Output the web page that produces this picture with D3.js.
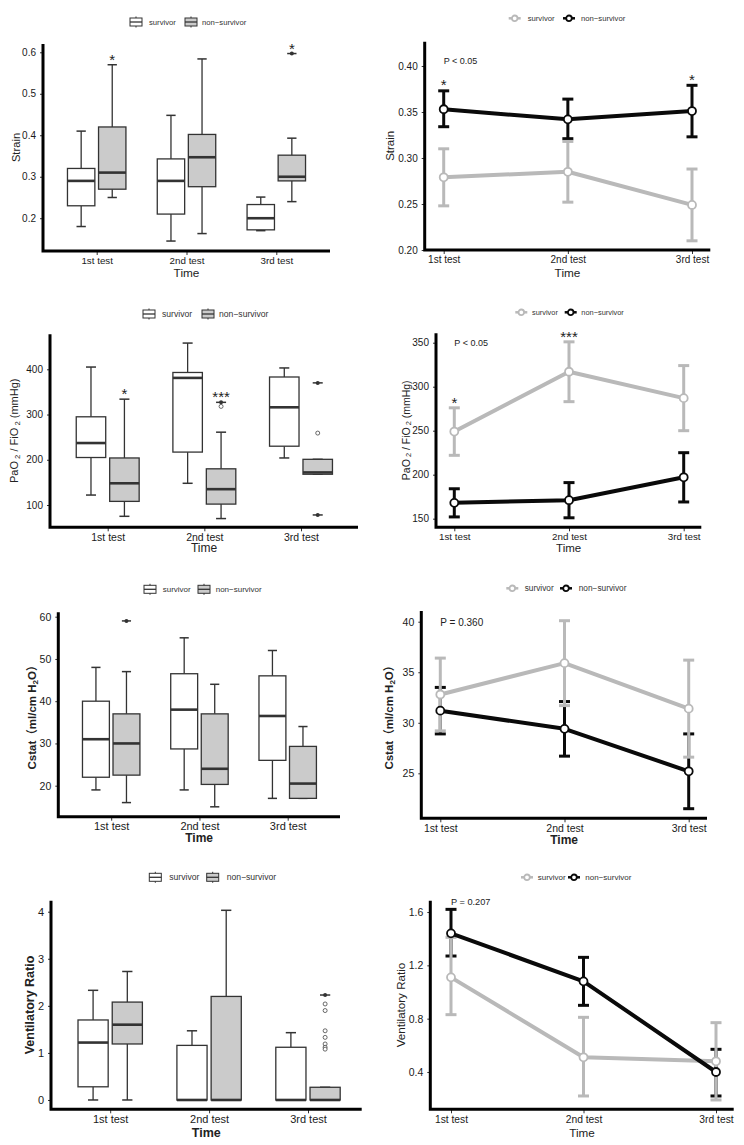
<!DOCTYPE html>
<html>
<head>
<meta charset="utf-8">
<script src="https://cdn.jsdelivr.net/npm/d3@7"></script>
<style>
  body { margin: 0; background: #fff; }
  svg text { font-family: "Liberation Sans", Arial, "Noto Sans CJK SC", sans-serif; fill: #222; }
</style>
</head>
<body>
<svg id="fig" width="744" height="1145"></svg>
<script>
const times = ["1st test", "2nd test", "3rd test"];
const groups = ["survivor", "non\u2212survivor"];

// box plots: [lower whisker, Q1, median, Q3, upper whisker] for each test
const strainSurvBox = [[0.18, 0.23, 0.29, 0.32, 0.41], [0.145, 0.21, 0.29, 0.343, 0.448], [0.17, 0.172, 0.2, 0.233, 0.251]];
const strainNonBox = [[0.25, 0.27, 0.31, 0.42, 0.57], [0.163, 0.276, 0.347, 0.402, 0.584], [0.24, 0.29, 0.3, 0.352, 0.393]];
const strainNonCapped = [[2, 0.597]];
const strainNonOpen = [];
const strainBoxStars = [[0, 0.591, "*"], [2, 0.618, "*"]];
const strainBoxTicks = [0.2, 0.3, 0.4, 0.5, 0.6];

const pfSurvBox = [[122, 205, 237, 295, 405], [148, 217, 381, 393, 458], [204, 230, 316, 383, 403]];
const pfNonBox = [[75, 108, 148, 204, 334], [70, 102, 135, 180, 261], [168, 168, 172, 201, 201]];
const pfNonCapped = [[1, 327], [2, 370], [2, 78]];
const pfNonOpen = [[1, 318], [2, 259]];
const pfBoxStars = [[0, 354, "*"], [1, 347, "***"]];
const pfBoxTicks = [100, 200, 300, 400];

const csSurvBox = [[19, 22, 31, 40, 48], [19, 28.7, 38, 46.5, 55], [17, 26, 36.5, 46, 52]];
const csNonBox = [[16, 22.5, 30, 37, 47], [15, 20.3, 24, 37, 44], [17, 17, 20.5, 29.3, 34]];
const csNonCapped = [[0, 59]];
const csNonOpen = [];
const csBoxTicks = [20, 30, 40, 50, 60];

const vrSurvBox = [[0, 0.28, 1.22, 1.7, 2.33], [0, 0, 0, 1.16, 1.47], [0, 0, 0, 1.12, 1.43]];
const vrNonBox = [[0, 1.19, 1.6, 2.08, 2.73], [0, 0, 0, 2.2, 4.03], [0, 0, 0, 0.27, 0.27]];
const vrNonCapped = [[2, 2.23]];
const vrNonOpen = [[2, 2.04], [2, 1.9], [2, 1.47], [2, 1.33], [2, 1.19], [2, 1.12], [2, 1.08]];
const vrBoxTicks = [0, 1, 2, 3, 4];

// mean with error bars
const strainSurvMean = [0.279, 0.285, 0.249];
const strainSurvLo = [0.248, 0.252, 0.21];
const strainSurvHi = [0.31, 0.318, 0.288];
const strainNonMean = [0.353, 0.342, 0.351];
const strainNonLo = [0.334, 0.321, 0.323];
const strainNonHi = [0.373, 0.364, 0.379];
const strainLineStars = [[0, 0.383, "*"], [2, 0.389, "*"]];
const strainLineTicks = [0.2, 0.25, 0.3, 0.35, 0.4];

const pfSurvMean = [249, 317, 287];
const pfSurvLo = [222, 283, 250];
const pfSurvHi = [276, 351, 324];
const pfNonMean = [168, 171, 197];
const pfNonLo = [152, 151, 169];
const pfNonHi = [184, 191, 225];
const pfLineStars = [[0, 285.7, "*"], [1, 360.7, "***"]];
const pfLineTicks = [150, 200, 250, 300, 350];

const csSurvMean = [32.8, 35.9, 31.4];
const csSurvLo = [29.2, 31.7, 26.6];
const csSurvHi = [36.4, 40.1, 36.2];
const csNonMean = [31.2, 29.4, 25.2];
const csNonLo = [28.9, 26.7, 21.5];
const csNonHi = [33.5, 32.1, 28.9];
const csLineTicks = [25, 30, 35, 40];

const vrSurvMean = [1.11, 0.51, 0.48];
const vrSurvLo = [0.83, 0.22, 0.19];
const vrSurvHi = [1.41, 0.81, 0.77];
const vrNonMean = [1.44, 1.08, 0.4];
const vrNonLo = [1.27, 0.9, 0.22];
const vrNonHi = [1.62, 1.26, 0.57];
const vrLineTicks = [0.4, 0.8, 1.2, 1.6];

const pfLabel = [["PaO", 0], [" 2", 1], [" / FiO", 0], [" 2", 1], [" (mmHg)", 0]];
const csLabel = [["Cstat\uff08ml/cm H", 0], ["2", 1], ["O\uff09", 0]];

const colSurv = "#b9b9b9";
const colNon = "#0a0a0a";
const fillNon = "#cbcbcb";
const boxStroke = "#333";
const starSize = 15;

const svg = d3.select("#fig");

const boxPanels = [
  { surv: strainSurvBox, non: strainNonBox, capped: strainNonCapped, open: strainNonOpen, stars: strainBoxStars,
    ticks: strainBoxTicks, fmt: ".1f", ylab: [["Strain", 0]], bold: false,
    left: 43, top: 44, bottom: 251, right: 330, ydom: [0.121, 0.62], xr: [96.7, 276.3],
    fs: { tick: 10, cat: 9.8, title: 11.8, ylab: 11.2 }, ylabX: 15.5, titleDy: 26,
    leg: { y: 22, k1: 130, t1: 149, k2: 185, t2: 202, fs: 7.7 } },
  { surv: pfSurvBox, non: pfNonBox, capped: pfNonCapped, open: pfNonOpen, stars: pfBoxStars,
    ticks: pfBoxTicks, fmt: "d", ylab: pfLabel, bold: false,
    left: 50, top: 334.3, bottom: 527.3, right: 358, ydom: [50.7, 477.4], xr: [107.7, 301],
    fs: { tick: 10, cat: 10.5, title: 12, ylab: 11 }, ylabX: 14, titleDy: 25,
    leg: { y: 314, k1: 143, t1: 162, k2: 202, t2: 219, fs: 8.6 } },
  { surv: csSurvBox, non: csNonBox, capped: csNonCapped, open: csNonOpen, stars: [],
    ticks: csBoxTicks, fmt: "d", ylab: csLabel, bold: true,
    left: 58.3, top: 612.3, bottom: 816.7, right: 340, ydom: [12.66, 61.04], xr: [111.2, 287.7],
    fs: { tick: 10.5, cat: 11, title: 12, ylab: 11.5 }, ylabX: 32, titleDy: 25.5,
    leg: { y: 589.3, k1: 144, t1: 162.7, k2: 198, t2: 215.7, fs: 8 } },
  { surv: vrSurvBox, non: vrNonBox, capped: vrNonCapped, open: vrNonOpen, stars: [],
    ticks: vrBoxTicks, fmt: "d", ylab: [["Ventilatory Ratio", 0]], bold: true,
    left: 51, top: 900.7, bottom: 1109.3, right: 361.7, ydom: [-0.198, 4.234], xr: [110.2, 308],
    fs: { tick: 11, cat: 11, title: 12.5, ylab: 12.5 }, ylabX: 30, titleDy: 27.5,
    leg: { y: 877.3, k1: 149.3, t1: 169.3, k2: 206.7, t2: 226.7, fs: 8.6 } }
];

const linePanels = [
  { survMean: strainSurvMean, survLo: strainSurvLo, survHi: strainSurvHi,
    nonMean: strainNonMean, nonLo: strainNonLo, nonHi: strainNonHi, stars: strainLineStars,
    ticks: strainLineTicks, fmt: ".2f", ylab: [["Strain", 0]], bold: false, ptext: "P < 0.05", pval: 0.405,
    left: 424.7, top: 41.7, bottom: 250, right: 710.3, ydom: [0.2, 0.4264], xr: [443.7, 692],
    fs: { tick: 10, cat: 10, title: 11.8, ylab: 11.5, p: 9 }, ylabX: 390, titleDy: 27,
    leg: { y: 18.3, k1: 508.7, t1: 527.7, k2: 563, t2: 581, fs: 7.7 } },
  { survMean: pfSurvMean, survLo: pfSurvLo, survHi: pfSurvHi,
    nonMean: pfNonMean, nonLo: pfNonLo, nonHi: pfNonHi, stars: pfLineStars,
    ticks: pfLineTicks, fmt: "d", ylab: pfLabel, bold: false, ptext: "P < 0.05", pval: 350,
    left: 436, top: 333.3, bottom: 527.3, right: 701.3, ydom: [140.2, 360.7], xr: [454.3, 683.7],
    fs: { tick: 10, cat: 9.8, title: 11.5, ylab: 10.5, p: 9 }, ylabX: 405.5, titleDy: 24.5,
    leg: { y: 312.3, k1: 515.3, t1: 532, k2: 564.7, t2: 581.3, fs: 7.4 } },
  { survMean: csSurvMean, survLo: csSurvLo, survHi: csSurvHi,
    nonMean: csNonMean, nonLo: csNonLo, nonHi: csNonHi, stars: [],
    ticks: csLineTicks, fmt: "d", ylab: csLabel, bold: true, ptext: "P = 0.360", pval: 39.9,
    left: 421.3, top: 611, bottom: 818.3, right: 707, ydom: [20.55, 41.06], xr: [440.3, 688.7],
    fs: { tick: 10.5, cat: 10.5, title: 12, ylab: 11.5, p: 10 }, ylabX: 389, titleDy: 26,
    leg: { y: 588.3, k1: 506.3, t1: 524.7, k2: 560, t2: 578.7, fs: 8.3 } },
  { survMean: vrSurvMean, survLo: vrSurvLo, survHi: vrSurvHi,
    nonMean: vrNonMean, nonLo: vrNonLo, nonHi: vrNonHi, stars: [],
    ticks: vrLineTicks, fmt: ".1f", ylab: [["Ventilatory Ratio", 0]], bold: false, ptext: "P = 0.207", pval: 1.673,
    left: 430.3, top: 900.7, bottom: 1109.3, right: 733.7, ydom: [0.12, 1.685], xr: [451, 716],
    fs: { tick: 10.5, cat: 10.3, title: 11.7, ylab: 11.6, p: 9.2 }, ylabX: 400, titleDy: 27.5,
    leg: { y: 877.3, k1: 521, t1: 537.7, k2: 568, t2: 585.3, fs: 8 } }
];

function addLegend(l, kind) {
  const g = svg.append("g").attr("transform", `translate(0,${l.y})`);
  [[l.k1, l.t1, 0], [l.k2, l.t2, 1]].forEach(([kx, tx, i]) => {
    if (kind === "box") {
      g.append("line").attr("x1", kx + 6).attr("x2", kx + 6).attr("y1", -5.5).attr("y2", 5.5)
        .attr("stroke", boxStroke).attr("stroke-width", 1);
      g.append("rect").attr("x", kx).attr("y", -4).attr("width", 12).attr("height", 8)
        .attr("fill", i ? fillNon : "#fff").attr("stroke", boxStroke).attr("stroke-width", 1);
      g.append("line").attr("x1", kx).attr("x2", kx + 12).attr("y1", 0).attr("y2", 0)
        .attr("stroke", boxStroke).attr("stroke-width", 1.3);
    } else {
      const c = i ? colNon : colSurv;
      g.append("line").attr("x1", kx).attr("x2", kx + 12).attr("y1", 0).attr("y2", 0)
        .attr("stroke", c).attr("stroke-width", 2.5);
      g.append("circle").attr("cx", kx + 6).attr("cy", 0).attr("r", 2.8)
        .attr("fill", "#fff").attr("stroke", c).attr("stroke-width", 1.8);
    }
    g.append("text").attr("x", tx).attr("y", 0).attr("dominant-baseline", "central")
      .attr("font-size", l.fs).style("fill", "#333").text(groups[i]);
  });
}

function addFrame(p, x, y) {
  const ya = svg.append("g").attr("transform", `translate(${p.left},0)`)
    .call(d3.axisLeft(y).tickValues(p.ticks).tickFormat(d3.format(p.fmt)).tickSize(3).tickPadding(4));
  ya.select(".domain").remove();
  ya.selectAll("text").attr("font-size", p.fs.tick).attr("font-family", null).style("fill", "#1a1a1a");
  ya.selectAll("line").attr("stroke", "#333");

  const xa = svg.append("g").attr("transform", `translate(0,${p.bottom})`)
    .call(d3.axisBottom(x).tickSize(4).tickPadding(2));
  xa.select(".domain").remove();
  xa.selectAll("text").attr("font-size", p.fs.cat).attr("font-family", null).style("fill", "#1a1a1a");
  xa.selectAll("line").attr("stroke", "#333");

  svg.append("path")
    .attr("d", `M${p.left},${p.top}V${p.bottom}H${p.right}`)
    .attr("fill", "none").attr("stroke", "#000").attr("stroke-width", 3);

  svg.append("text")
    .attr("x", (p.left + p.right) / 2).attr("y", p.bottom + p.titleDy)
    .attr("text-anchor", "middle").attr("font-size", p.fs.title)
    .attr("font-weight", p.bold ? "bold" : null).text("Time");

  const yl = svg.append("text")
    .attr("transform", `translate(${p.ylabX},${(p.top + p.bottom) / 2}) rotate(-90)`)
    .attr("text-anchor", "middle").attr("dominant-baseline", "central")
    .attr("font-size", p.fs.ylab).attr("font-weight", p.bold ? "bold" : null);
  let shifted = false;
  p.ylab.forEach(([t, sub]) => {
    const s = yl.append("tspan").text(t);
    if (sub && !shifted) { s.attr("font-size", p.fs.ylab * 0.7).attr("dy", 2.5); shifted = true; }
    else if (!sub && shifted) { s.attr("dy", -2.5); shifted = false; }
  });
}

function drawBoxPanel(p) {
  const y = d3.scaleLinear().domain(p.ydom).range([p.bottom, p.top]);
  const x = d3.scalePoint().domain(times).range(p.xr);
  const step = x.step();
  const dodge = step * 0.173;
  const bw = step * 0.305;
  const cap = bw * 0.34;
  const g = svg.append("g");

  [[p.surv, -1, "#fff"], [p.non, 1, fillNon]].forEach(([stats, side, fill]) => {
    stats.forEach((s, i) => {
      const [lo, q1, med, q3, hi] = s;
      const cx = x(times[i]) + side * dodge;
      g.append("line").attr("x1", cx).attr("x2", cx).attr("y1", y(hi)).attr("y2", y(q3))
        .attr("stroke", boxStroke).attr("stroke-width", 1.3);
      g.append("line").attr("x1", cx).attr("x2", cx).attr("y1", y(q1)).attr("y2", y(lo))
        .attr("stroke", boxStroke).attr("stroke-width", 1.3);
      [lo, hi].forEach(v => g.append("line")
        .attr("x1", cx - cap / 2).attr("x2", cx + cap / 2).attr("y1", y(v)).attr("y2", y(v))
        .attr("stroke", boxStroke).attr("stroke-width", 1.5));
      g.append("rect").attr("x", cx - bw / 2).attr("y", y(q3))
        .attr("width", bw).attr("height", Math.max(0, y(q1) - y(q3)))
        .attr("fill", fill).attr("stroke", boxStroke).attr("stroke-width", 1.3);
      g.append("line").attr("x1", cx - bw / 2).attr("x2", cx + bw / 2).attr("y1", y(med)).attr("y2", y(med))
        .attr("stroke", boxStroke).attr("stroke-width", 2.6);
    });
  });

  p.capped.forEach(([i, v]) => {
    const cx = x(times[i]) + dodge;
    g.append("line").attr("x1", cx - cap / 2).attr("x2", cx + cap / 2).attr("y1", y(v)).attr("y2", y(v))
      .attr("stroke", boxStroke).attr("stroke-width", 1.5);
    g.append("circle").attr("cx", cx).attr("cy", y(v)).attr("r", 2).attr("fill", boxStroke);
  });
  p.open.forEach(([i, v]) => {
    g.append("circle").attr("cx", x(times[i]) + dodge).attr("cy", y(v)).attr("r", 2)
      .attr("fill", "#fff").attr("stroke", "#444").attr("stroke-width", 0.8);
  });
  p.stars.forEach(([i, v, t]) => {
    g.append("text").attr("x", x(times[i]) + dodge).attr("y", y(v) + 0.58 * starSize)
      .attr("text-anchor", "middle").attr("font-size", starSize).text(t);
  });

  addFrame(p, x, y);
  addLegend(p.leg, "box");
}

function drawLinePanel(p) {
  const y = d3.scaleLinear().domain(p.ydom).range([p.bottom, p.top]);
  const x = d3.scalePoint().domain(times).range(p.xr);
  const cap = 11;
  const g = svg.append("g");
  const series = [
    { mean: p.survMean, lo: p.survLo, hi: p.survHi, col: colSurv },
    { mean: p.nonMean, lo: p.nonLo, hi: p.nonHi, col: colNon }
  ];

  // black error bars sit under the grey ones
  [series[1], series[0]].forEach(s => {
    times.forEach((t, i) => {
      const cx = x(t);
      g.append("line").attr("x1", cx).attr("x2", cx).attr("y1", y(s.lo[i])).attr("y2", y(s.hi[i]))
        .attr("stroke", s.col).attr("stroke-width", 3);
      [s.lo[i], s.hi[i]].forEach(v => g.append("line")
        .attr("x1", cx - cap / 2).attr("x2", cx + cap / 2).attr("y1", y(v)).attr("y2", y(v))
        .attr("stroke", s.col).attr("stroke-width", 3));
    });
  });

  const line = d3.line().x((d, i) => x(times[i])).y(d => y(d));
  series.forEach(s => {
    g.append("path").datum(s.mean).attr("d", line)
      .attr("fill", "none").attr("stroke", s.col).attr("stroke-width", 4).attr("stroke-linejoin", "round");
  });
  series.forEach(s => {
    g.selectAll(null).data(s.mean).join("circle")
      .attr("cx", (d, i) => x(times[i])).attr("cy", d => y(d)).attr("r", 4)
      .attr("fill", "#fff").attr("stroke", s.col).attr("stroke-width", 1.8);
  });

  p.stars.forEach(([i, v, t]) => {
    g.append("text").attr("x", x(times[i])).attr("y", y(v) + 0.58 * starSize)
      .attr("text-anchor", "middle").attr("font-size", starSize).text(t);
  });
  g.append("text").attr("x", x(times[0])).attr("y", y(p.pval))
    .attr("dominant-baseline", "central").attr("font-size", p.fs.p).text(p.ptext);

  addFrame(p, x, y);
  addLegend(p.leg, "line");
}

boxPanels.forEach(drawBoxPanel);
linePanels.forEach(drawLinePanel);
</script>
</body>
</html>
